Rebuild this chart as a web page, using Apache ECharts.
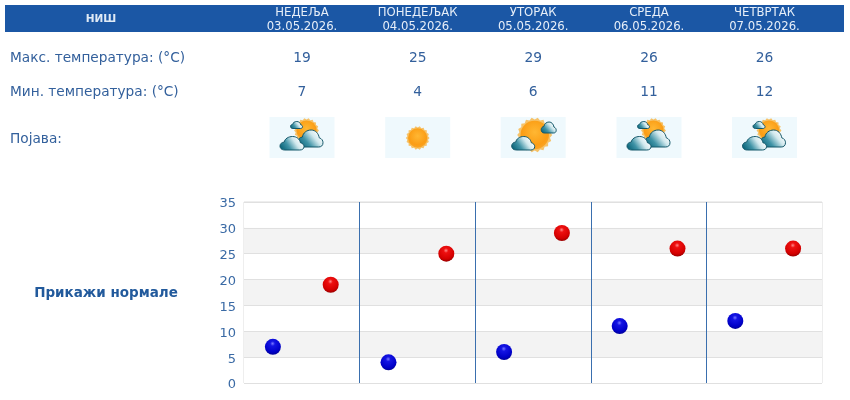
<!DOCTYPE html>
<html><head><meta charset="utf-8">
<script src="https://cdn.jsdelivr.net/npm/echarts@6/dist/echarts.min.js"></script>
<style>html,body{margin:0;padding:0;background:#fff}#c{width:850px;height:400px}</style>
</head><body><div id="c"></div>
<script>
const city = 'НИШ';
const days = ['НЕДЕЉА','ПОНЕДЕЉАК','УТОРАК','СРЕДА','ЧЕТВРТАК'];
const dates = ['03.05.2026.','04.05.2026.','05.05.2026.','06.05.2026.','07.05.2026.'];
const maxTemps = [19,25,29,26,26];
const minTemps = [7,4,6,11,12];
const phenomena = ['partly','sunny','mostlySunny','partly','partly'];
const rowLabels = ['Макс. температура: (°C)','Мин. температура: (°C)','Појава:'];
const normalsLabel = 'Прикажи нормале';

const FONT = '"DejaVu Sans", Verdana, sans-serif';
const TXT = '#33609c';
const colX = [302,417.7,533.2,649,764.5];
const g = [];

echarts.graphic.registerShape('cloud', echarts.graphic.extendShape({
  shape:{x:0,y:0,width:40,height:24},
  buildPath(ctx,s){
    const X=v=>s.x+v/40*s.width, Y=v=>s.y+v/24*s.height;
    ctx.moveTo(X(8),Y(24));
    ctx.bezierCurveTo(X(2),Y(24),X(0),Y(20),X(0),Y(17));
    ctx.bezierCurveTo(X(0),Y(13),X(3),Y(10),X(7),Y(10));
    ctx.bezierCurveTo(X(8),Y(4),X(14),Y(0),X(21),Y(0));
    ctx.bezierCurveTo(X(28),Y(0),X(33),Y(5),X(34),Y(11));
    ctx.bezierCurveTo(X(38),Y(12),X(40),Y(15),X(40),Y(18));
    ctx.bezierCurveTo(X(40),Y(22),X(37),Y(24),X(33),Y(24));
    ctx.closePath();
  }
}));

function text(x,y,t,o){ g.push({type:'text',silent:true,z:5,x:x,y:y,style:Object.assign({text:t,x:0,y:0,fill:TXT,font:'13.8px '+FONT,textAlign:'center',textVerticalAlign:'middle'},o||{})}); }
g.push({type:'rect',silent:true,z:1,shape:{x:5,y:5,width:839,height:27},style:{fill:'#1b57a5'}});
text(101,19.5,city,{fill:'#dfe9f5',font:'bold 10.5px '+FONT});
days.forEach((d,i)=>{
  text(colX[i],12.5,d,{fill:'#e6eef8',font:'11.7px '+FONT});
  text(colX[i],26.5,dates[i],{fill:'#e6eef8',font:'11.7px '+FONT});
  text(colX[i],58.5,String(maxTemps[i]));
  text(colX[i],92,String(minTemps[i]));
});
text(10,58.5,rowLabels[0],{textAlign:'left',font:'13.7px '+FONT});
text(10,92,rowLabels[1],{textAlign:'left',font:'13.7px '+FONT});
text(10,139.5,rowLabels[2],{textAlign:'left',font:'13.7px '+FONT});
text(106,293.5,normalsLabel,{font:'bold 13.5px '+FONT,fill:'#225a9c'});

function cloud(x,y,w,h){
  g.push({type:'cloud',silent:true,z:4,shape:{x:x,y:y,width:w,height:h},
    style:{stroke:'#14586a',lineWidth:1,fill:{type:'linear',x:0.1,y:0.95,x2:0.8,y2:0.1,colorStops:[{offset:0,color:'#0a6479'},{offset:0.35,color:'#3f93a6'},{offset:0.7,color:'#d0e8ed'},{offset:1,color:'#ffffff'}]}}});
}
function sun(cx,cy,r){
  const pts=[],n=18,rr=r*1.13;
  for(let k=0;k<n*2;k++){const a=Math.PI*k/n,q=k%2?r:rr;pts.push([cx+q*Math.cos(a),cy+q*Math.sin(a)]);}
  g.push({type:'polygon',silent:true,z:3,shape:{points:pts},style:{fill:'#f6c268'}});
  g.push({type:'circle',silent:true,z:3,shape:{cx:cx,cy:cy,r:r*0.92},style:{fill:{type:'radial',x:0.5,y:0.4,r:0.65,colorStops:[{offset:0,color:'#ffb733'},{offset:0.7,color:'#fb9d14'},{offset:1,color:'#f9a82a'}]}}});
}
function icon(kind,cx){
  const x=cx-32.5;
  g.push({type:'rect',silent:true,z:2,shape:{x:x,y:117,width:65,height:41},style:{fill:'#eff9fd'}});
  if(kind==='sunny'){ sun(cx,138,10.5); }
  if(kind==='partly'){
    sun(cx+4.5,130.5,11);
    cloud(cx-11.5,121.5,12,7);
    cloud(cx-4,130,25,17);
    cloud(cx-22,136.5,24,13.5);
  }
  if(kind==='mostlySunny'){
    sun(cx+1.5,135,15.5);
    cloud(cx+8,122,15,11);
    cloud(cx-21.5,136.5,23,13.5);
  }
}
phenomena.forEach((p,i)=>icon(p,colX[i]));

const ball=(hi,mid,core,dark)=>({type:'radial',x:0.48,y:0.3,r:0.75,colorStops:[{offset:0,color:hi},{offset:0.2,color:mid},{offset:0.7,color:core},{offset:1,color:dark}]});
const chart=echarts.init(document.getElementById('c'),null,{renderer:'canvas'});
chart.setOption({
  animation:false,
  graphic:{elements:g},
  grid:{left:244,right:28,top:202,bottom:17,show:true,borderColor:'#dcdcdc',borderWidth:1,backgroundColor:'transparent'},
  xAxis:{type:'value',min:0,max:days.length,interval:1,
    axisLine:{show:false},axisTick:{show:false},axisLabel:{show:false},
    splitLine:{show:true,showMinLine:false,showMaxLine:false,lineStyle:{color:'#3a6fae',width:1}}},
  yAxis:{type:'value',min:0,max:35,interval:5,
    axisLine:{show:false},axisTick:{show:false},
    axisLabel:{color:'#3a6aa5',fontFamily:'"DejaVu Sans"',fontSize:13,margin:8,verticalAlign:'top',lineHeight:4},
    splitLine:{show:true,lineStyle:{color:'#e0e0e0',width:1}},
    splitArea:{show:true,areaStyle:{color:['#ffffff','#f3f3f3']}}},
  series:[
    {name:'min',type:'scatter',symbolSize:16,silent:true,
     data:minTemps.map((v,i)=>[i+0.25,v]),
     itemStyle:{opacity:1,color:ball('#7878ff','#1414e4','#0000c8','#000088')}},
    {name:'max',type:'scatter',symbolSize:16,silent:true,
     data:maxTemps.map((v,i)=>[i+0.75,v]),
     itemStyle:{opacity:1,color:ball('#ff8888','#ee1010','#d40000','#880000')}}
  ]
});
</script></body></html>
